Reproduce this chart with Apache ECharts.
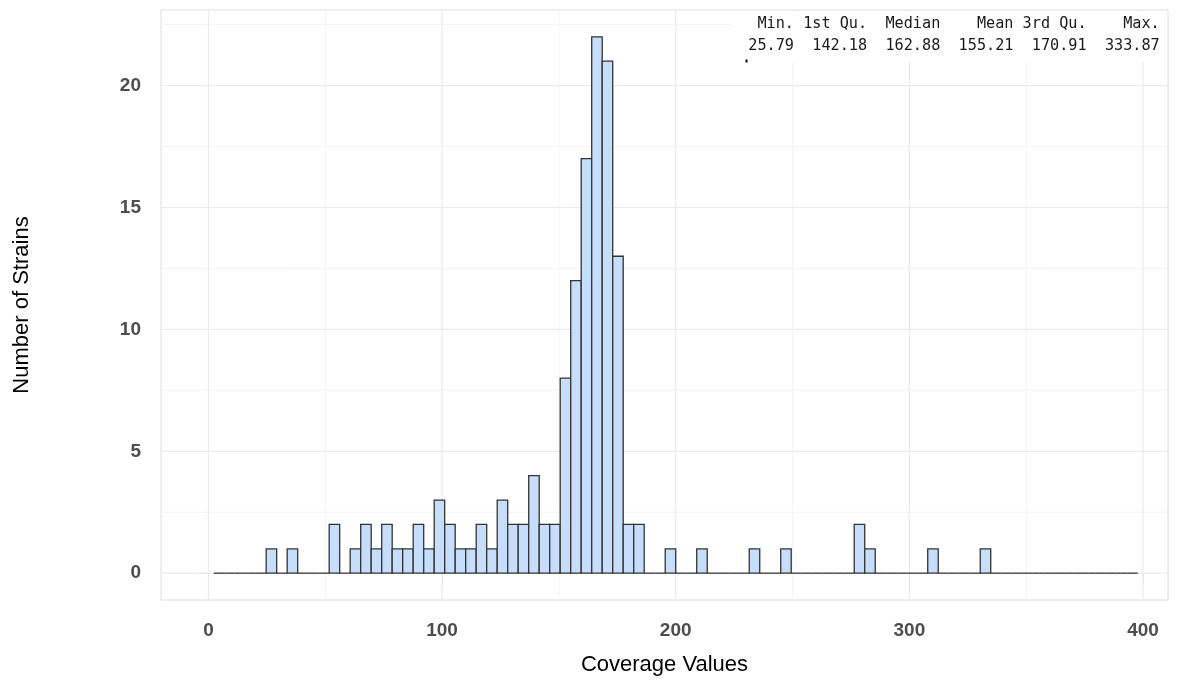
<!DOCTYPE html>
<html>
<head>
<meta charset="utf-8">
<script src="https://cdn.jsdelivr.net/npm/echarts@6/dist/echarts.min.js"></script>
<style>
  html, body { margin: 0; padding: 0; background: #ffffff; }
  #chart { width: 1181px; height: 684px; }
</style>
</head>
<body>
<div id="chart"></div>
<script>
// Coverage histogram: 89 equal bins centred on multiples of 400/89 over 0–400;
// the two edge bins fall outside the 0–400 limit, leaving 88 drawn bins.
const binWidth = 400 / 89;
const binCounts = [
  0, 0, 0, 0, 0,   1, 0, 1, 0, 0,   0, 2, 0, 1, 2,   1, 2, 1, 1, 2,
  1, 3, 2, 1, 1,   2, 1, 3, 2, 2,   4, 2, 2, 8, 12,  17, 22, 21, 13, 2,
  2, 0, 0, 1, 0,   0, 1, 0, 0, 0,   0, 1, 0, 0, 1,   0, 0, 0, 0, 0,
  0, 2, 1, 0, 0,   0, 0, 0, 1, 0,   0, 0, 0, 1, 0,   0, 0, 0, 0, 0,
  0, 0, 0, 0, 0,   0, 0, 0
];

// Axis breaks
const xMajorTicks = [0, 100, 200, 300, 400];
const xMinorTicks = [50, 150, 250, 350];
const yMajorTicks = [0, 5, 10, 15, 20];
const yMinorTicks = [2.5, 7.5, 12.5, 17.5, 22.5];

// Summary table printed in the corner
const summaryNames = ['Min.', '1st Qu.', 'Median', 'Mean', '3rd Qu.', 'Max.'];
const summaryValues = ['25.79', '142.18', '162.88', '155.21', '170.91', '333.87'];

const X_MIN = -20.3, X_MAX = 410.7;
const Y_MIN = -1.1, Y_MAX = 23.1;

const histData = binCounts.map((c, i) => [(i + 1) * binWidth, c]);

const gridData = [
  ...xMinorTicks.map(v => [v, 0, 0]),
  ...yMinorTicks.map(v => [v, 1, 0]),
  ...xMajorTicks.map(v => [v, 0, 1]),
  ...yMajorTicks.map(v => [v, 1, 1])
];

const tableLine = arr => arr.map(s => s.padStart(7, ' ')).join(' ');
const tableHeader = tableLine(summaryNames);
const tableBody = tableLine(summaryValues);

const chart = echarts.init(document.getElementById('chart'), null, { renderer: 'canvas' });

const labelStyle = {
  color: '#4d4d4d',
  fontFamily: 'Liberation Sans, Arial, sans-serif',
  fontWeight: 'bold',
  fontSize: 19
};

chart.setOption({
  animation: false,
  backgroundColor: '#ffffff',
  grid: {
    left: 161, right: 13, top: 10, bottom: 84,
    show: true,
    borderColor: '#dedede',
    borderWidth: 1,
    backgroundColor: 'transparent'
  },
  xAxis: {
    type: 'value',
    min: X_MIN, max: X_MAX,
    name: 'Coverage Values',
    nameLocation: 'middle',
    nameGap: 54,
    nameTextStyle: { color: '#000000', fontSize: 22, fontFamily: 'Liberation Sans, Arial, sans-serif' },
    axisLine: { show: false },
    axisTick: { show: true, customValues: xMajorTicks, length: 10, lineStyle: { color: '#dcdcdc', width: 1 } },
    axisLabel: Object.assign({ customValues: xMajorTicks, margin: 21 }, labelStyle),
    splitLine: { show: false }
  },
  yAxis: {
    type: 'value',
    min: Y_MIN, max: Y_MAX,
    name: 'Number of Strains',
    nameLocation: 'middle',
    nameGap: 128,
    nameTextStyle: { color: '#000000', fontSize: 22, fontFamily: 'Liberation Sans, Arial, sans-serif' },
    axisLine: { show: false },
    axisTick: { show: true, customValues: yMajorTicks, length: 12, lineStyle: { color: '#dcdcdc', width: 1 } },
    axisLabel: Object.assign({ customValues: yMajorTicks, margin: 20 }, labelStyle),
    splitLine: { show: false }
  },
  series: [
    {
      // panel grid lines
      type: 'custom',
      silent: true,
      z: 1,
      clip: true,
      encode: { x: 0 },
      data: gridData,
      renderItem: (params, api) => {
        const v = api.value(0);
        const horiz = api.value(1) === 1;
        const major = api.value(2) === 1;
        const p0 = horiz ? api.coord([X_MIN, v]) : api.coord([v, Y_MIN]);
        const p1 = horiz ? api.coord([X_MAX, v]) : api.coord([v, Y_MAX]);
        return {
          type: 'line',
          shape: { x1: p0[0], y1: p0[1], x2: p1[0], y2: p1[1] },
          style: { stroke: major ? '#ebebeb' : '#f4f4f4', lineWidth: major ? 1.2 : 1 }
        };
      }
    },
    {
      // histogram bars
      type: 'custom',
      z: 3,
      data: histData,
      encode: { x: 0, y: 1 },
      renderItem: (params, api) => {
        const centre = api.value(0);
        const count = api.value(1);
        const a = api.coord([centre - binWidth / 2, 0]);
        const b = api.coord([centre + binWidth / 2, count]);
        if (count === 0) {
          return {
            type: 'line',
            shape: { x1: a[0], y1: a[1], x2: b[0], y2: a[1] },
            style: { stroke: '#3a3a3a', lineWidth: 1.3 }
          };
        }
        return {
          type: 'rect',
          shape: { x: a[0], y: b[1], width: b[0] - a[0], height: a[1] - b[1] },
          style: { fill: '#c6ddfb', stroke: '#333333', lineWidth: 1.3 }
        };
      }
    }
  ],
  graphic: [
    {
      type: 'rect',
      z: 10,
      silent: true,
      shape: { x: 731, y: 11, width: 436, height: 51 },
      style: { fill: '#ffffff' }
    },
    {
      type: 'text',
      z: 11,
      x: 730, y: 24,
      style: {
        text: tableHeader,
        fill: '#1a1a1a',
        font: '15.2px "DejaVu Sans Mono", monospace',
        textVerticalAlign: 'middle'
      }
    },
    {
      type: 'text',
      z: 11,
      x: 730, y: 46,
      style: {
        text: tableBody,
        fill: '#1a1a1a',
        font: '15.2px "DejaVu Sans Mono", monospace',
        textVerticalAlign: 'middle'
      }
    },
    {
      type: 'rect',
      z: 11,
      silent: true,
      shape: { x: 745.5, y: 59.5, width: 2, height: 3 },
      style: { fill: '#000000' }
    }
  ]
});
</script>
</body>
</html>
